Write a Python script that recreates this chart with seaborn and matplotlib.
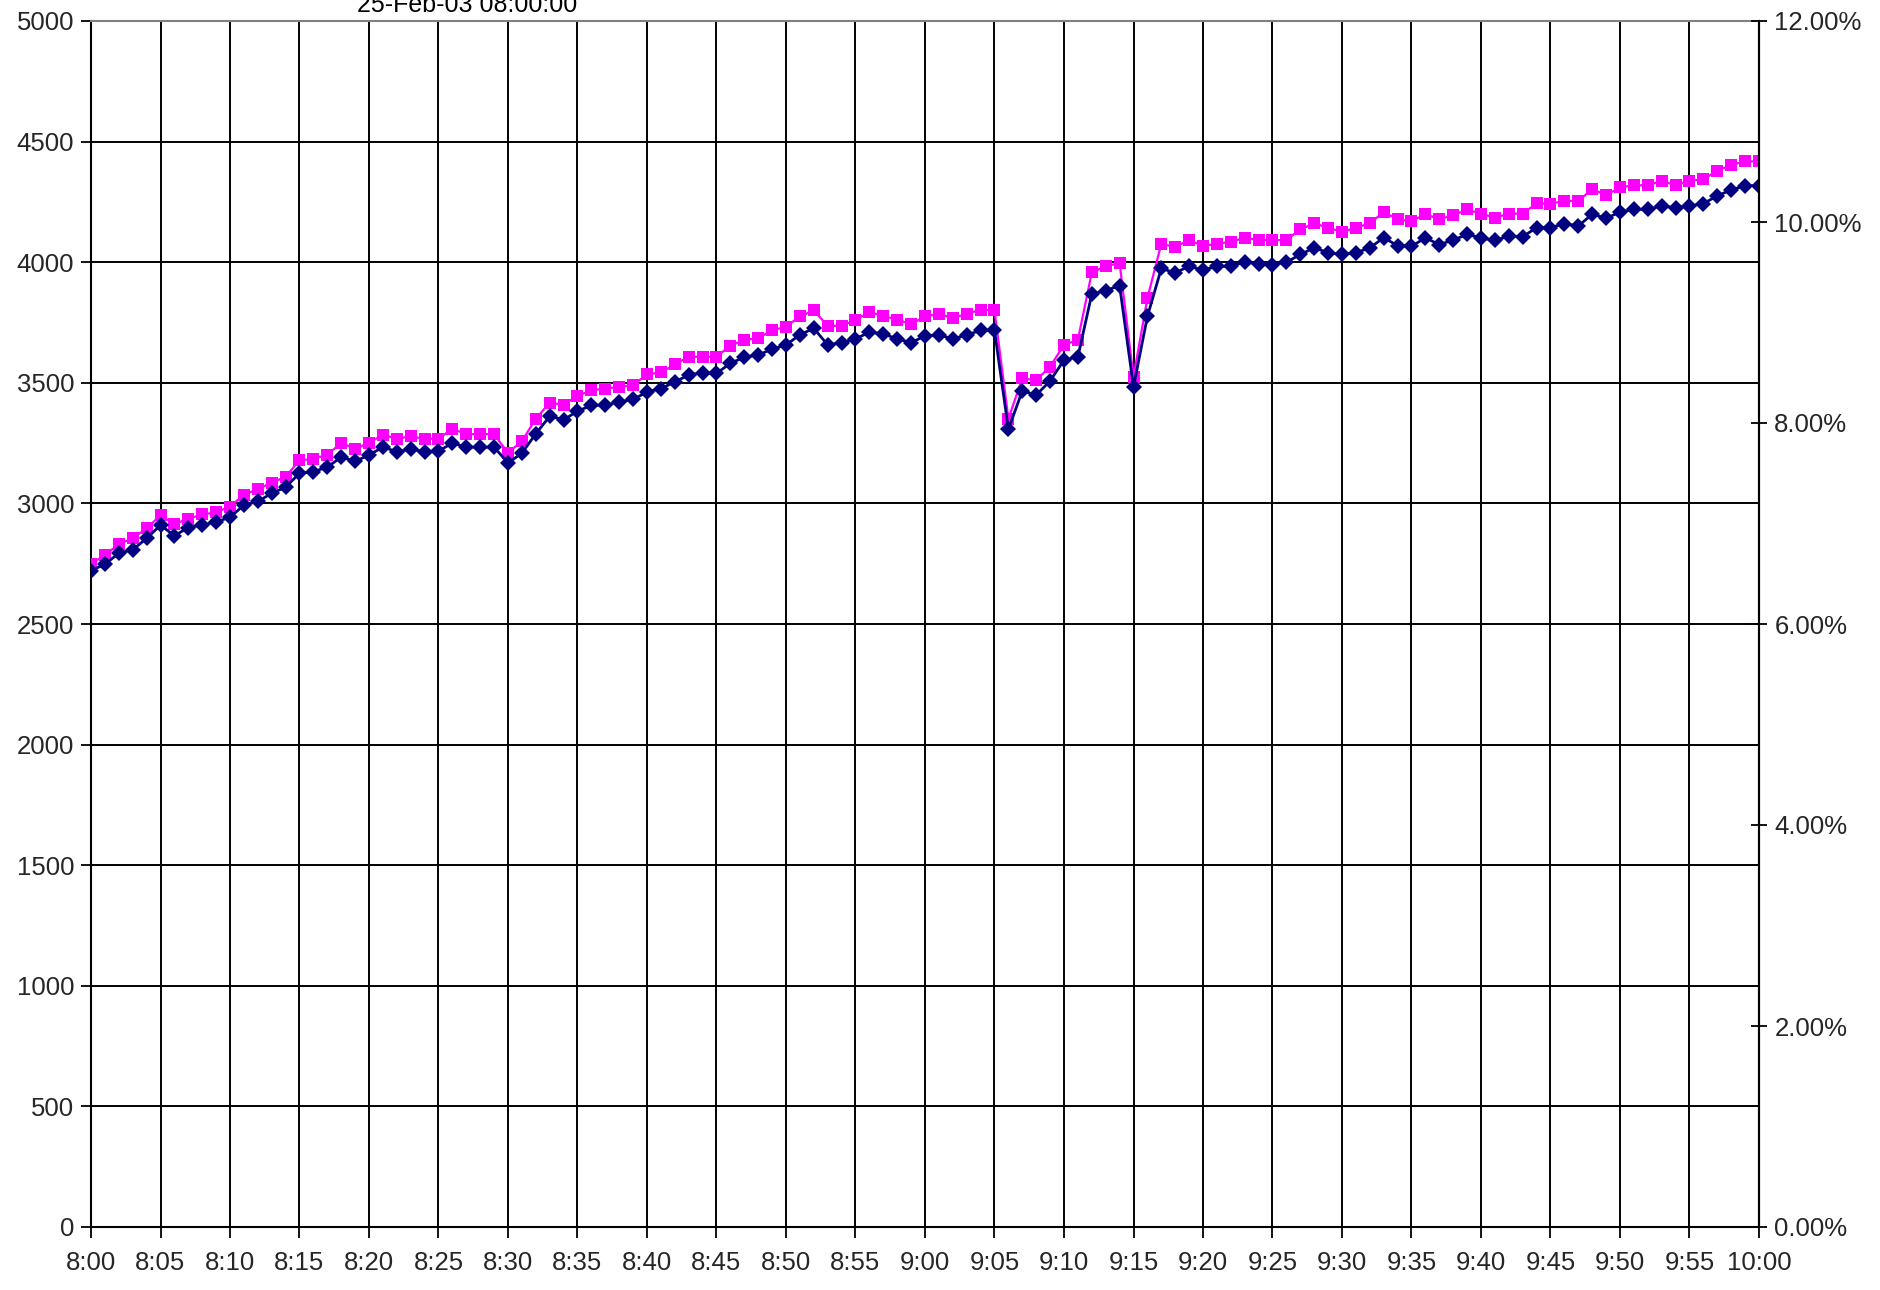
import numpy as np
import pandas as pd
import matplotlib
matplotlib.use("Agg")
import matplotlib.pyplot as plt
import seaborn as sns
from matplotlib.ticker import FuncFormatter, MultipleLocator

# ---- data ----
title_text = "25-Feb-03 08:00:00"
minutes = list(range(121))  # one sample per minute, 8:00 .. 10:00
tick_labels = ["8:00", "8:05", "8:10", "8:15", "8:20", "8:25", "8:30", "8:35",
               "8:40", "8:45", "8:50", "8:55", "9:00", "9:05", "9:10", "9:15",
               "9:20", "9:25", "9:30", "9:35", "9:40", "9:45", "9:50", "9:55",
               "10:00"]

navy_values = [
    2721, 2748, 2793, 2808, 2855, 2910, 2866, 2900, 2910, 2924,
    2942, 2993, 3008, 3042, 3067, 3125, 3132, 3150, 3192, 3174,
    3201, 3233, 3215, 3224, 3215, 3217, 3250, 3233, 3233, 3233,
    3168, 3208, 3289, 3361, 3347, 3382, 3407, 3407, 3421, 3431,
    3462, 3476, 3504, 3532, 3542, 3539, 3581, 3606, 3615, 3640,
    3657, 3699, 3726, 3657, 3667, 3682, 3710, 3703, 3682, 3667,
    3694, 3699, 3682, 3699, 3717, 3717, 3307, 3467, 3449, 3508,
    3594, 3608, 3868, 3882, 3903, 3483, 3775, 3974, 3956, 3983,
    3967, 3983, 3983, 4001, 3993, 3990, 4000, 4032, 4060, 4039,
    4032, 4039, 4060, 4101, 4069, 4066, 4101, 4073, 4092, 4115,
    4101, 4090, 4108, 4106, 4143, 4143, 4160, 4150, 4199, 4182,
    4208, 4219, 4219, 4233, 4226, 4233, 4243, 4275, 4300, 4317,
    4317,
]

magenta_values = [
    2748, 2787, 2830, 2856, 2896, 2951, 2914, 2937, 2954, 2963,
    2987, 3035, 3060, 3085, 3111, 3178, 3185, 3201, 3251, 3226,
    3251, 3285, 3268, 3278, 3268, 3268, 3310, 3286, 3289, 3286,
    3210, 3258, 3351, 3418, 3409, 3446, 3469, 3476, 3483, 3490,
    3535, 3543, 3576, 3608, 3608, 3608, 3654, 3678, 3685, 3717,
    3733, 3775, 3800, 3736, 3736, 3761, 3793, 3778, 3761, 3744,
    3775, 3786, 3768, 3786, 3803, 3800, 3351, 3518, 3511, 3567,
    3657, 3678, 3958, 3983, 3997, 3525, 3851, 4076, 4063, 4092,
    4067, 4076, 4085, 4101, 4092, 4092, 4092, 4136, 4161, 4143,
    4126, 4143, 4161, 4208, 4178, 4169, 4200, 4178, 4194, 4219,
    4201, 4185, 4201, 4201, 4244, 4243, 4254, 4254, 4303, 4278,
    4310, 4319, 4319, 4337, 4319, 4337, 4344, 4379, 4403, 4418,
    4418,
]

left_max = 5000
right_max = 0.12

# ---- figure ----
sns.set_theme(style="white")
plt.rcParams["font.family"] = ["Liberation Sans", "DejaVu Sans"]

W, H = 1881, 1290
fig = plt.figure(figsize=(W / 100, H / 100), dpi=100)
ax = fig.add_axes([91 / W, 1 - 1227 / H, (1759 - 91) / W, (1227 - 21) / H])

df = pd.DataFrame({"minute": minutes, "navy": navy_values, "magenta": magenta_values})

sns.lineplot(data=df, x="minute", y="magenta", ax=ax, color="#FF00FF",
             marker="s", markersize=8.5, markeredgewidth=0, linewidth=1.6,
             zorder=3)
sns.lineplot(data=df, x="minute", y="navy", ax=ax, color="#000080",
             marker="D", markersize=8.5, markeredgewidth=0, linewidth=2.0,
             zorder=4)

ax.set_xlim(0, 120)
ax.set_ylim(0, left_max)
ax.set_xticks(np.arange(0, 121, 5))
ax.set_xticklabels(tick_labels)
ax.yaxis.set_major_locator(MultipleLocator(500))
ax.set_xlabel("")
ax.set_ylabel("")

ax.grid(True, color="black", linewidth=1.4)
ax.set_axisbelow(True)
for side in ["left", "bottom", "right"]:
    ax.spines[side].set_color("black")
    ax.spines[side].set_linewidth(1.5)
ax.spines["top"].set_color("#808080")
ax.spines["top"].set_linewidth(1.5)

ax.tick_params(axis="x", direction="out", length=8, width=1.3, color="black",
               labelsize=18.5, pad=9, bottom=True)
ax.tick_params(axis="y", direction="out", length=7, width=1.3, color="black",
               labelsize=18.5, pad=5, left=True)

ax2 = ax.twinx()
ax2.set_ylim(0, right_max)
ax2.yaxis.set_major_locator(MultipleLocator(0.02))
ax2.yaxis.set_major_formatter(FuncFormatter(lambda v, p: f"{v * 100:.2f}%"))
ax2.tick_params(axis="y", direction="inout", length=12, width=1.3, color="black",
                labelsize=18.5, pad=5, right=True)
ax2.grid(False)
for side in ["left", "bottom", "top"]:
    ax2.spines[side].set_visible(False)
ax2.spines["right"].set_color("black")
ax2.spines["right"].set_linewidth(1.5)

fig.text(467 / W, 1 - 12 / H, title_text, ha="center", va="baseline",
         fontsize=18, color="black")

fig.savefig("out.png", dpi=100, facecolor="white")
